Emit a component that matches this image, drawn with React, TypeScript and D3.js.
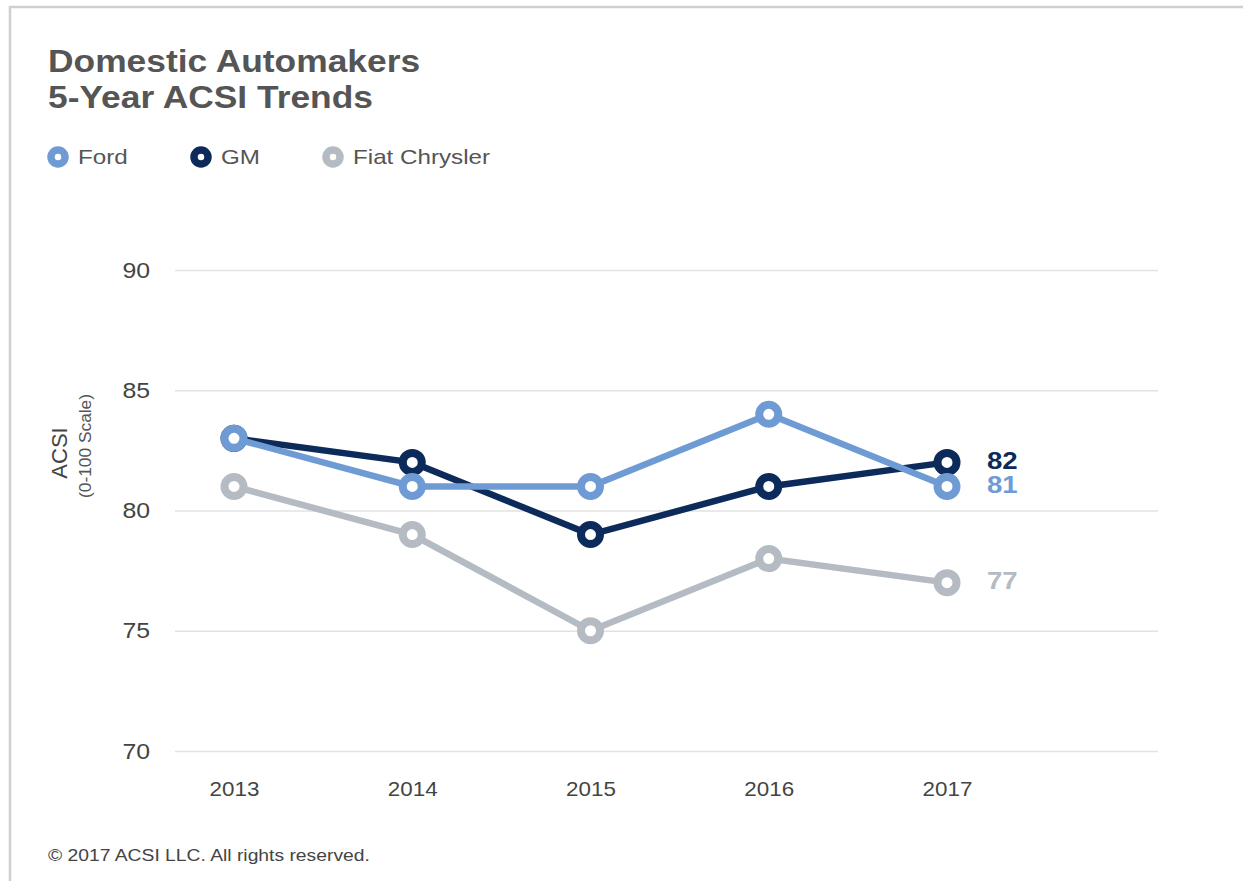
import React, { useEffect, useRef } from 'react';
import * as d3 from 'd3';

const years = ['2013', '2014', '2015', '2016', '2017'];
const ford = [83, 81, 81, 84, 81];
const gm = [83, 82, 79, 81, 82];
const fiat = [81, 79, 75, 78, 77];
const yTicks = [70, 75, 80, 85, 90];

const seriesNames = ['Ford', 'GM', 'Fiat Chrysler'];
const seriesColors = ['#6f9bd4', '#0c2a5a', '#b4bbc2'];

const W = 1243;
const H = 881;
const FONT = '"Liberation Sans", Arial, Helvetica, sans-serif';

const App: React.FC = () => {
  const svgRef = useRef<SVGSVGElement>(null);

  useEffect(() => {
    if (!svgRef.current) return;
    const svg = d3.select(svgRef.current);
    svg.selectAll('*').remove();

    const x = d3.scalePoint<string>().domain(years).range([234, 947]);
    const y = d3.scaleLinear().domain([70, 90]).range([751, 270]);

    // the source text is a bit wide, so stretch it horizontally
    const label = (tx: number, ty: number, sx: number, size: number, txt: string, fill: string, weight = 400) =>
      svg.append('text')
        .attr('transform', `translate(${tx},${ty}) scale(${sx},1)`)
        .attr('font-family', FONT)
        .attr('font-size', size)
        .attr('font-weight', weight)
        .attr('fill', fill)
        .text(txt);

    // frame
    svg.append('path')
      .attr('d', `M10,${H} L10,7 L${W},7`)
      .attr('fill', 'none')
      .attr('stroke', '#cfcfcf')
      .attr('stroke-width', 2.5);

    // title
    label(48, 72, 1.16, 30.5, 'Domestic Automakers', '#555', 700);
    label(48, 108, 1.16, 30.5, '5-Year ACSI Trends', '#555', 700);

    // legend
    const legendX = [58, 201, 333];
    seriesNames.forEach((name, i) => {
      svg.append('circle')
        .attr('cx', legendX[i]).attr('cy', 157).attr('r', 7)
        .attr('fill', '#fff')
        .attr('stroke', seriesColors[i])
        .attr('stroke-width', 7.5);
      label(legendX[i] + 20, 164, 1.18, 20.5, name, '#555');
    });

    // grid + y ticks
    const grid = svg.append('g')
      .attr('transform', 'translate(175,0)')
      .call(d3.axisLeft(y).tickValues(yTicks).tickSize(-983).tickPadding(22).tickFormat(d3.format('d')));
    grid.select('.domain').remove();
    grid.selectAll('.tick line').attr('stroke', '#e2e2e2').attr('stroke-width', 1.5);
    grid.selectAll('.tick text')
      .attr('transform', 'scale(1.13,1)')
      .attr('font-family', FONT).attr('font-size', 22).attr('fill', '#444');

    // x axis
    const xa = svg.append('g')
      .attr('transform', 'translate(0,751)')
      .call(d3.axisBottom(x).tickSize(0).tickPadding(31));
    xa.select('.domain').remove();
    xa.selectAll('.tick text')
      .attr('transform', 'scale(1.12,1)')
      .attr('font-family', FONT).attr('font-size', 20).attr('fill', '#444');

    // y label
    svg.append('text')
      .attr('transform', 'translate(67,453) rotate(-90)')
      .attr('text-anchor', 'middle')
      .attr('font-family', FONT).attr('font-size', 22).attr('fill', '#444')
      .text('ACSI');
    svg.append('text')
      .attr('transform', 'translate(91,446) rotate(-90)')
      .attr('text-anchor', 'middle')
      .attr('font-family', FONT).attr('font-size', 16).attr('fill', '#555')
      .attr('textLength', 104).attr('lengthAdjust', 'spacingAndGlyphs')
      .text('(0-100 Scale)');

    const line = d3.line<number>()
      .x((_, i) => x(years[i]) as number)
      .y(d => y(d));

    const data = [fiat, gm, ford];
    const order = [2, 1, 0];
    data.forEach((vals, k) => {
      const c = seriesColors[order[k]];
      svg.append('path')
        .datum(vals)
        .attr('fill', 'none')
        .attr('stroke', c)
        .attr('stroke-width', 6.5)
        .attr('d', line);
      svg.selectAll(null)
        .data(vals)
        .enter()
        .append('circle')
        .attr('cx', (_, i) => x(years[i]) as number)
        .attr('cy', d => y(d))
        .attr('r', 9.5)
        .attr('fill', '#fff')
        .attr('stroke', c)
        .attr('stroke-width', 8);
    });

    // end labels
    const last = years.length - 1;
    [ford, gm, fiat].forEach((vals, i) => {
      label((x(years[last]) as number) + 40, y(vals[last]) + 6.5, 1.2, 23, String(vals[last]), seriesColors[i], 700);
    });

    // footer
    label(48, 861, 1.17, 16.5, '\u00a9 2017 ACSI LLC. All rights reserved.', '#444');
  }, []);

  return (
    <div style={{ position: 'absolute', left: 0, top: 0 }}>
      <svg ref={svgRef} width={W} height={H} style={{ display: 'block', background: '#fff' }} />
    </div>
  );
};

export default App;
